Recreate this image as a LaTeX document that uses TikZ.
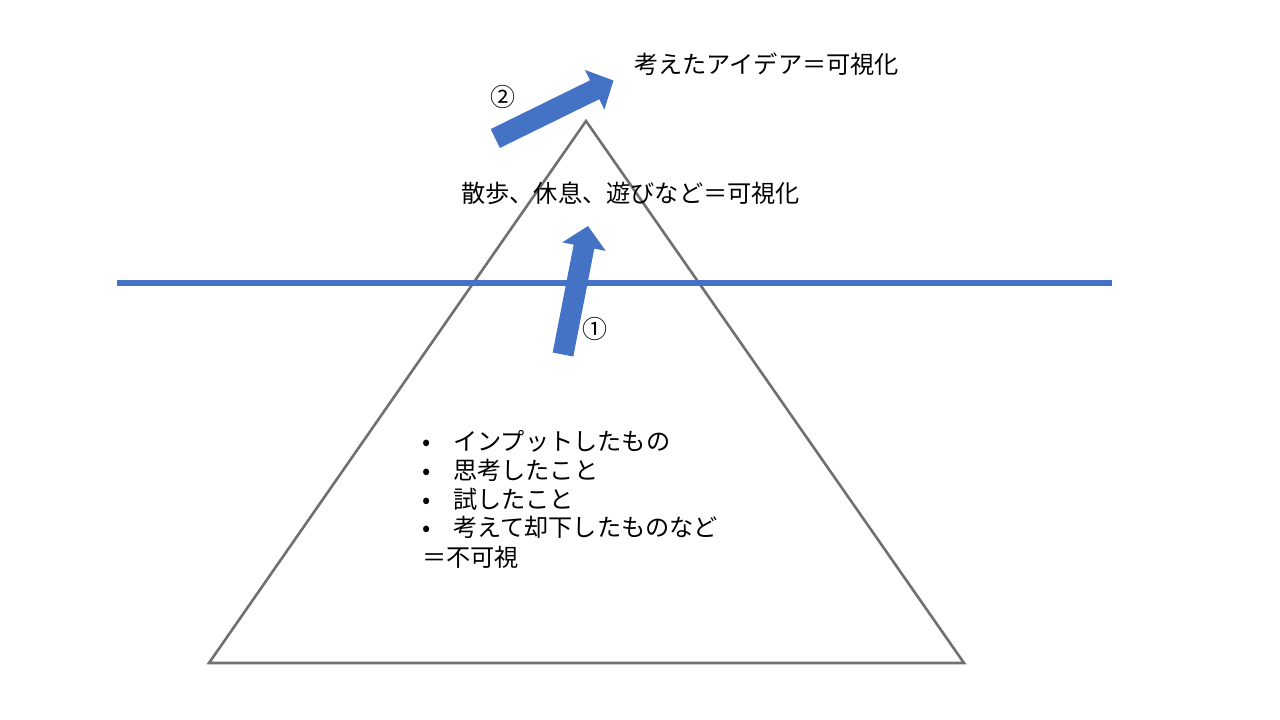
\documentclass[tikz,border=0pt]{standalone}
\usepackage{fontspec}
\setmainfont{Noto Sans CJK JP}
\usetikzlibrary{arrows.meta}
\definecolor{accblue}{HTML}{4472C4}
\definecolor{trigray}{HTML}{707070}
\tikzset{
  lbl/.style={inner sep=0pt, anchor=west, font=\fontsize{24.2}{29}\selectfont},
  num/.style={inner sep=0pt, font=\fontsize{25}{29}\selectfont},
  blockarrow/.style={accblue, line width=21pt, -{Triangle[length=21pt,width=43pt]}},
}
\begin{document}
\begin{tikzpicture}[x=1pt,y=-1pt]
\useasboundingbox (0,0) rectangle (1280,720);
% triangle
\coordinate (apex) at (586,121);
\coordinate (bl) at (209,663);
\coordinate (br) at (964,663);
\draw[trigray, line width=2.6pt, line join=miter] (apex) -- (bl) -- (br) -- cycle;
% water line
\coordinate (wl) at (117,283);
\coordinate (wr) at (1112,283);
\draw[accblue, line width=5.5pt] (wl) -- (wr);
% arrow 1
\coordinate (a1s) at (563,354.5);
\coordinate (a1e) at (588,226);
\draw[blockarrow] (a1s) -- (a1e);
% arrow 2
\coordinate (a2s) at (495.3,138.5);
\coordinate (a2e) at (613.5,80.5);
\draw[blockarrow] (a2s) -- (a2e);
% numbers
\node[num] (n2) at (503,97) {②};
\node[num] (n1) at (595,329) {①};
% labels
\node[lbl] (top) at (634,64) {考えたアイデア＝可視化};
\node[lbl] (mid) at (461,193) {散歩、休息、遊びなど＝可視化};
\node[lbl] (b1) at (422,441) {\makebox[31pt][l]{•}インプットしたもの};
\node[lbl] (b2) at (422,470) {\makebox[31pt][l]{•}思考したこと};
\node[lbl] (b3) at (422,499) {\makebox[31pt][l]{•}試したこと};
\node[lbl] (b4) at (422,527) {\makebox[31pt][l]{•}考えて却下したものなど};
\node[lbl] (b5) at (422,557) {＝不可視};
\end{tikzpicture}
\end{document}
